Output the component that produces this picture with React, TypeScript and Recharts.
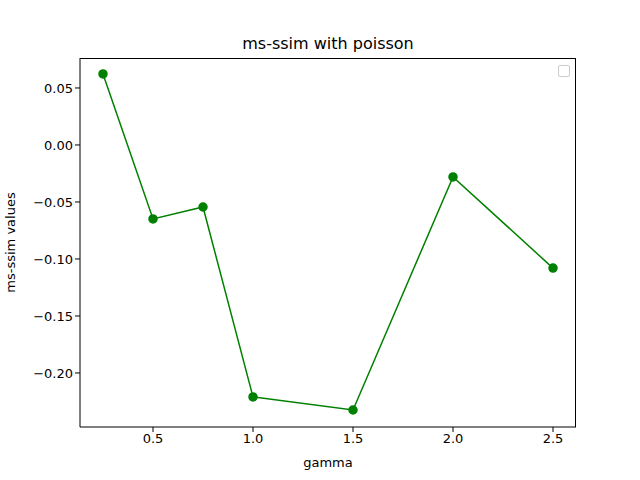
import React from "react";
import { LineChart, Line, XAxis, YAxis } from "recharts";

const gammas = [0.25, 0.5, 0.75, 1.0, 1.5, 2.0, 2.5];
const values = [0.0623, -0.0649, -0.0544, -0.221, -0.2325, -0.028, -0.108];
const xTicks = [0.5, 1.0, 1.5, 2.0, 2.5];
const yTicks = [0.05, 0.0, -0.05, -0.1, -0.15, -0.2];

const data = gammas.map((g, i) => ({ gamma: g, value: values[i] }));
const font = "DejaVu Sans";

export default function App() {
  return (
    <div style={{ position: "absolute", left: 0, top: 0, width: 640, height: 480, background: "#fff", fontFamily: font }}>
      <LineChart width={640} height={480} data={data} margin={{ top: 58, right: 64, bottom: 0, left: 0 }}>
        <XAxis
          type="number"
          dataKey="gamma"
          domain={[0.135, 2.615]}
          ticks={xTicks}
          allowDataOverflow
          height={53}
          tickFormatter={(v) => v.toFixed(1)}
          tick={{ fill: "#000", fontSize: 13, fontFamily: font }}
          tickSize={5}
          stroke="#000"
          label={{ value: "gamma", position: "insideBottom", offset: 13, fill: "#000", fontSize: 13, fontFamily: font }}
        />
        <YAxis
          type="number"
          domain={[-0.2474, 0.0763]}
          ticks={yTicks}
          allowDataOverflow
          width={80}
          tickFormatter={(v) => v.toFixed(2).replace("-", "\u2212")}
          tick={{ fill: "#000", fontSize: 13, fontFamily: font }}
          tickSize={5}
          stroke="#000"
          label={{ value: "ms-ssim values", angle: -90, position: "insideLeft", offset: 10, fill: "#000", fontSize: 13, fontFamily: font, style: { textAnchor: "middle" } }}
        />
        <Line
          type="linear"
          dataKey="value"
          stroke="#008000"
          strokeWidth={1.5}
          dot={{ r: 4, fill: "#008000", stroke: "#008000" }}
          isAnimationActive={false}
        />
        <text x={328} y={49} textAnchor="middle" fontSize={16} fontFamily={font} fill="#000">ms-ssim with poisson</text>
      </LineChart>
      <div style={{ position: "absolute", left: 80, top: 58, width: 496, height: 369, borderTop: "1px solid #000", borderRight: "1px solid #000", boxSizing: "border-box", pointerEvents: "none" }} />
      <div style={{ position: "absolute", left: 558, top: 65, width: 10, height: 10, border: "1px solid #ccc", borderRadius: 2 }} />
    </div>
  );
}
